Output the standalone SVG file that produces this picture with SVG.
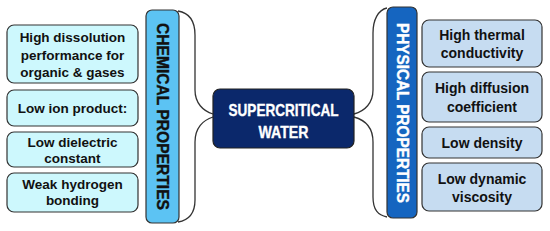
<svg xmlns="http://www.w3.org/2000/svg" width="550" height="231" viewBox="0 0 550 231">
<style>
.lb{fill:#cdf8fd;stroke:#333;stroke-width:1.2}
.rb{fill:#c6dcf1;stroke:#333;stroke-width:1.2}
.t{font-family:"Liberation Sans",Arial,sans-serif;font-weight:bold;fill:#111;text-anchor:middle}
.l{font-size:13.5px}
.r{font-size:14px}
.v{font-family:"Liberation Sans",Arial,sans-serif;font-weight:bold;font-size:16.5px;text-anchor:middle;stroke-width:0.4}
.br{fill:none;stroke:#333;stroke-width:1.3}
.w{font-family:"Liberation Sans",Arial,sans-serif;font-weight:bold;font-size:16.5px;fill:#fff;stroke:#fff;stroke-width:0.35;text-anchor:middle}
</style>
<rect width="550" height="231" fill="#fff"/>
<g id="connectors">
<path class="br" d="M178,11 C190,13 195,22 195,35 L195,90 C195,103 203,111 213,114"/>
<path class="br" d="M213,117 C203,120 195,128 195,142 L195,200 C195,213 190,220 178,222"/>
<path class="br" d="M387,8 C378,10 373,20 373,33 L373,90 C373,103 365,111 354,114"/>
<path class="br" d="M354,117 C365,120 373,128 373,142 L373,197 C373,210 378,215 387,217"/>
</g>
<g id="center">
<rect x="213" y="89" width="141" height="59" rx="7" fill="#0b286b" stroke="#222" stroke-width="1.2"/>
<text class="w" x="283.5" y="115.5" textLength="110" lengthAdjust="spacingAndGlyphs">SUPERCRITICAL</text>
<text class="w" x="283.5" y="137.5" textLength="50" lengthAdjust="spacingAndGlyphs">WATER</text>
</g>
<g id="chemical">
<rect x="146" y="10" width="33" height="213" rx="6" fill="#5cc3f3" stroke="#333" stroke-width="1.2"/>
<text class="v" transform="translate(157,116.5) rotate(90)" fill="#111" stroke="#111" textLength="187" lengthAdjust="spacingAndGlyphs">CHEMICAL PROPERTIES</text>
</g>
<g id="physical">
<rect x="387" y="7" width="30" height="211" rx="6" fill="#1565c0" stroke="#333" stroke-width="1.2"/>
<text class="v" transform="translate(397,113) rotate(90)" fill="#fff" stroke="#fff" textLength="180" lengthAdjust="spacingAndGlyphs">PHYSICAL PROPERTIES</text>
</g>
<g id="c1">
<rect class="lb" x="7" y="25" width="131" height="58" rx="7"/>
<text class="t l" x="72.5" y="42">High dissolution</text>
<text class="t l" x="72.5" y="59.5">performance for</text>
<text class="t l" x="72.5" y="77">organic &amp; gases</text>
</g>
<g id="c2">
<rect class="lb" x="7" y="90" width="131" height="36" rx="7"/>
<text class="t l" x="72.5" y="113">Low ion product:</text>
</g>
<g id="c3">
<rect class="lb" x="7" y="132" width="131" height="35" rx="7"/>
<text class="t l" x="72.5" y="147">Low dielectric</text>
<text class="t l" x="72.5" y="163">constant</text>
</g>
<g id="c4">
<rect class="lb" x="7" y="173" width="131" height="39" rx="7"/>
<text class="t l" x="72.5" y="188.5">Weak hydrogen</text>
<text class="t l" x="72.5" y="205">bonding</text>
</g>
<g id="p1">
<rect class="rb" x="422" y="20" width="120" height="47" rx="7"/>
<text class="t r" x="482" y="40">High thermal</text>
<text class="t r" x="482" y="58">conductivity</text>
</g>
<g id="p2">
<rect class="rb" x="422" y="72" width="120" height="50" rx="7"/>
<text class="t r" x="482" y="93">High diffusion</text>
<text class="t r" x="482" y="112">coefficient</text>
</g>
<g id="p3">
<rect class="rb" x="422" y="127" width="120" height="31" rx="7"/>
<text class="t r" x="482" y="148">Low density</text>
</g>
<g id="p4">
<rect class="rb" x="422" y="163" width="120" height="48" rx="7"/>
<text class="t r" x="482" y="184">Low dynamic</text>
<text class="t r" x="482" y="202">viscosity</text>
</g>
</svg>
